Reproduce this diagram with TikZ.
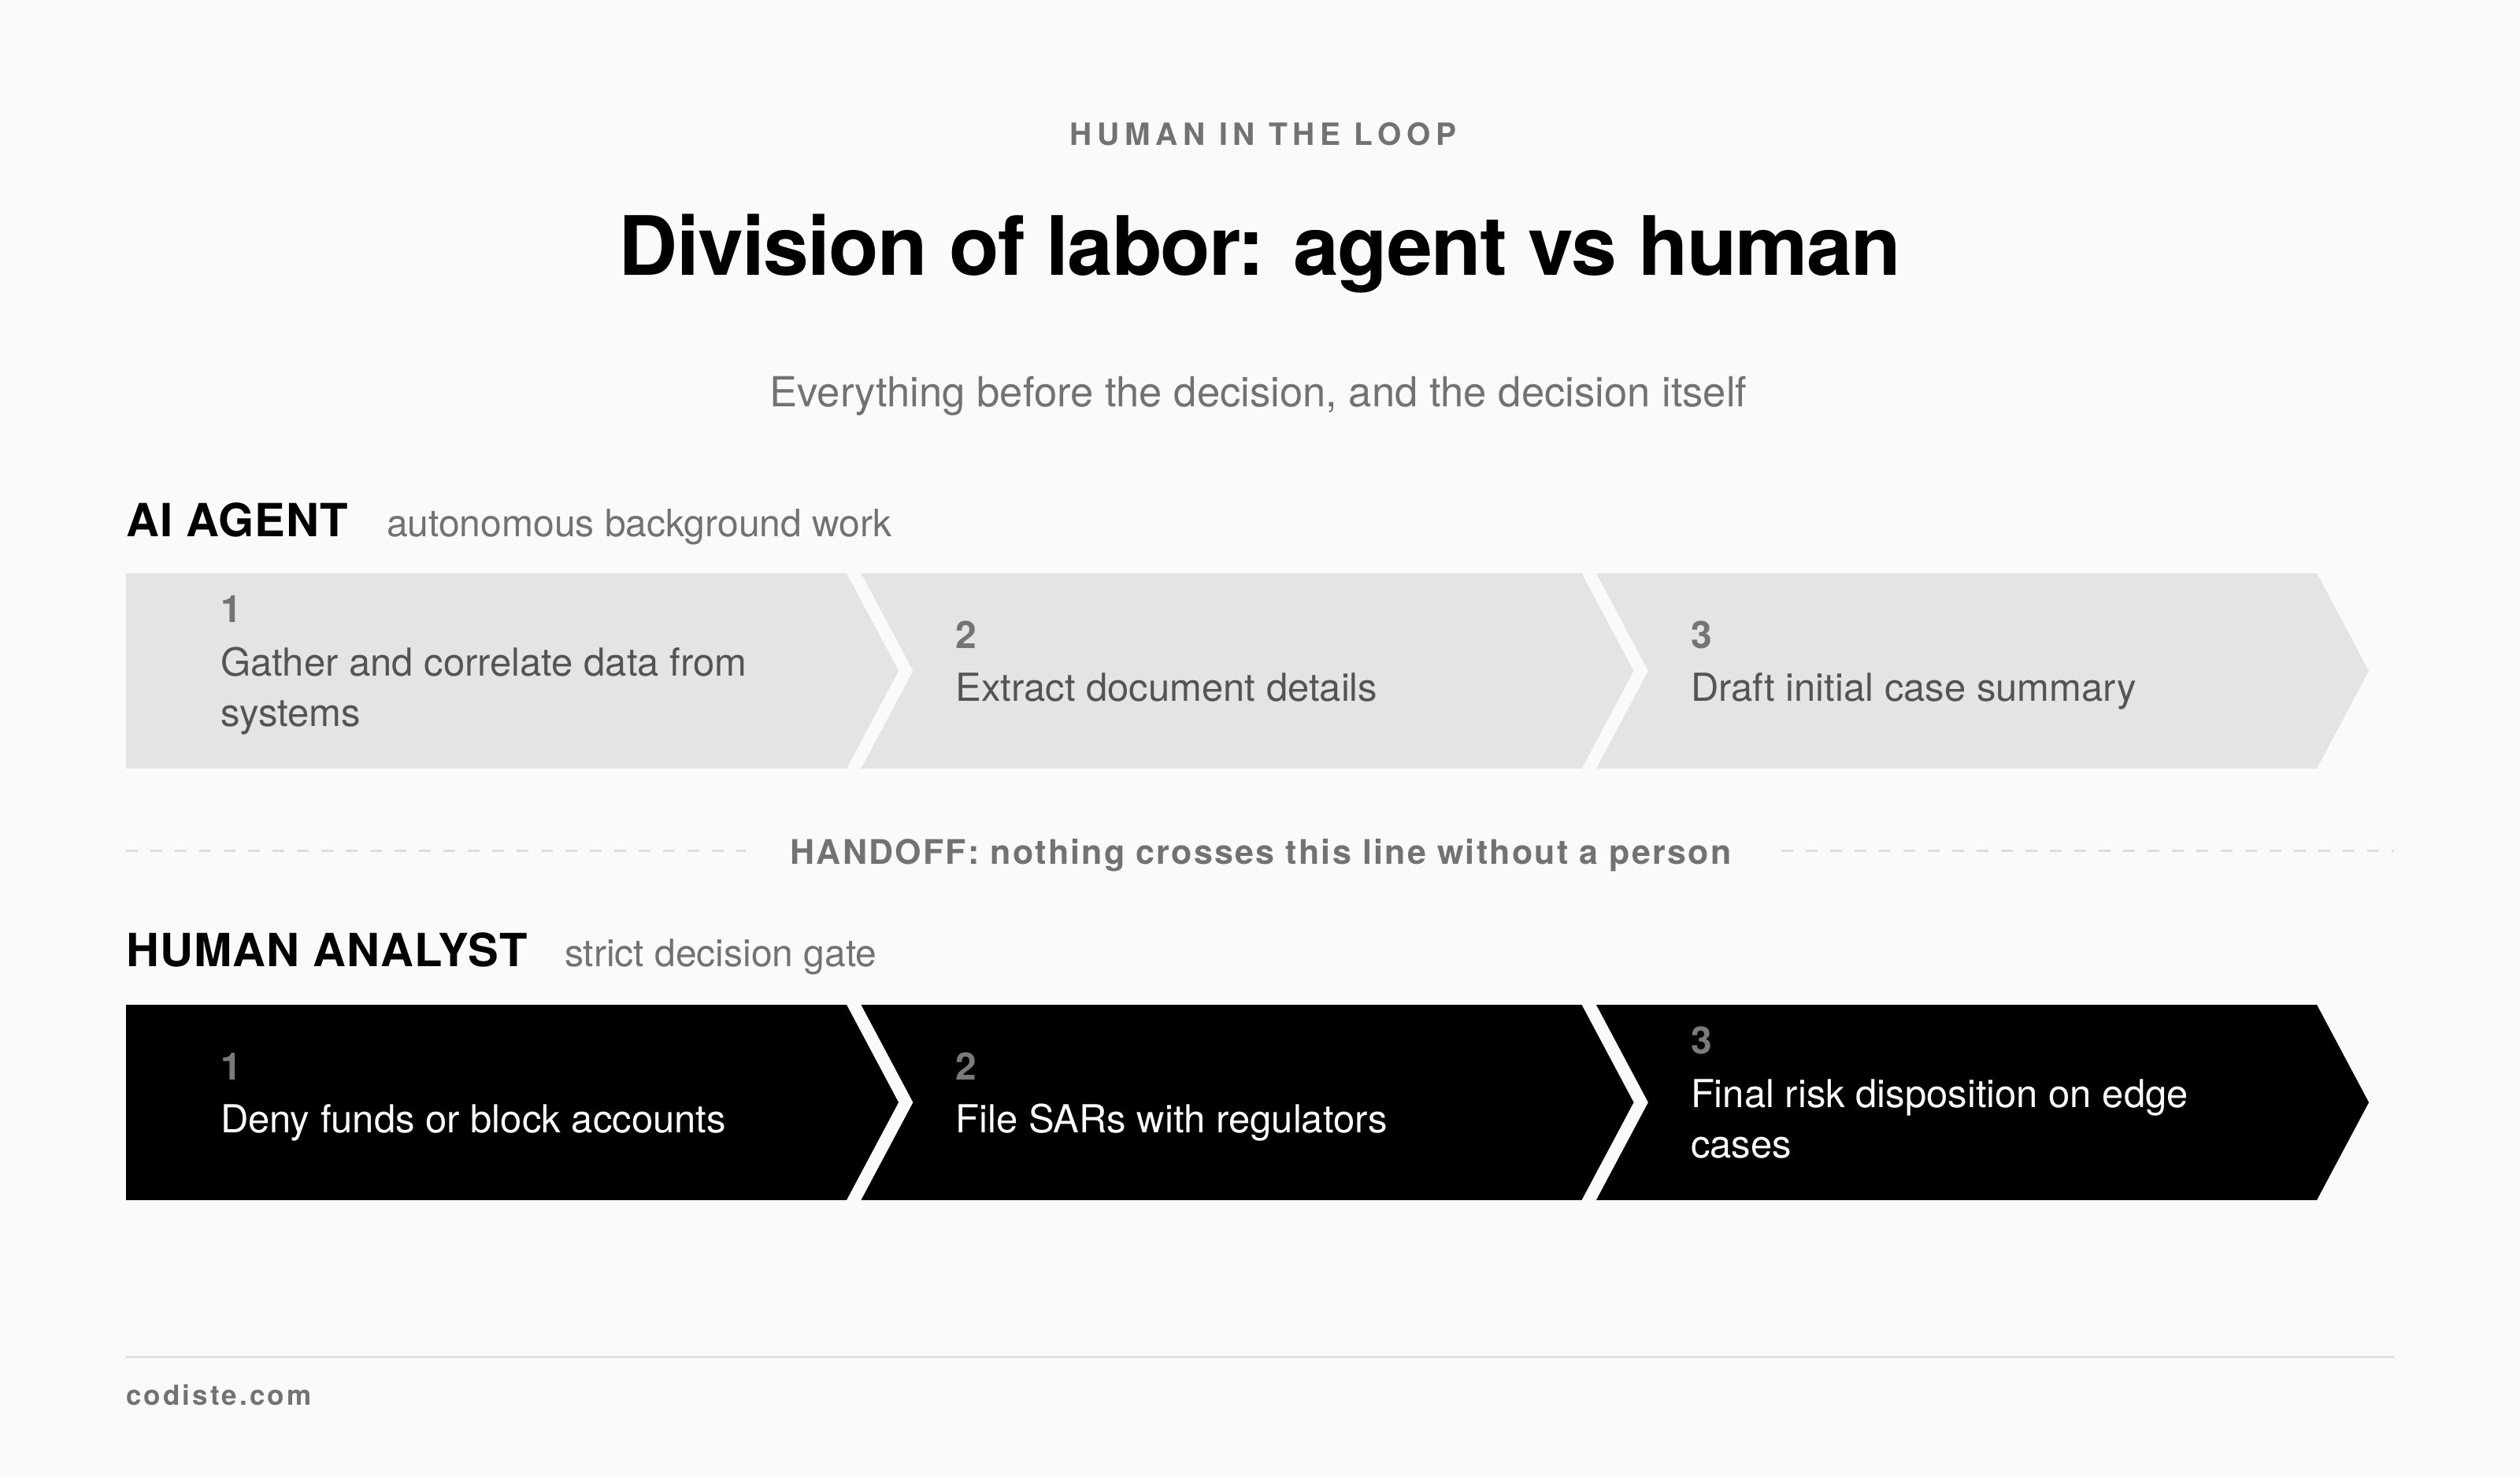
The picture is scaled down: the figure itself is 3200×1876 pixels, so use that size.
\documentclass[tikz,border=0pt]{standalone}
\usepackage{fontspec}
\setmainfont{TeX Gyre Heros}
\definecolor{bg}{HTML}{FAFAFA}
\definecolor{chevgray}{HTML}{E4E4E4}
\definecolor{chevdark}{HTML}{000000}
\definecolor{numgray}{HTML}{747474}
\definecolor{numdark}{HTML}{7A7A7A}
\definecolor{txtgray}{HTML}{545454}
\definecolor{labelgray}{HTML}{727272}
\definecolor{dashgray}{HTML}{DDDDDD}
\definecolor{rulegray}{HTML}{E2E2E2}
\tikzset{
  every node/.style={inner sep=0pt,outer sep=0pt},
  chevlight/.style={fill=chevgray},
  chevblack/.style={fill=chevdark},
  numlight/.style={anchor=base west,text=numgray,font=\fontsize{48}{58}\selectfont\bfseries},
  numblack/.style={anchor=base west,text=numdark,font=\fontsize{48}{58}\selectfont\bfseries},
  txtlight/.style={anchor=base west,text=txtgray,font=\fontsize{49}{64}\selectfont},
  txtblack/.style={anchor=base west,text=white,font=\fontsize{49}{64}\selectfont},
  lanehead/.style={anchor=base west,text=black,font=\fontsize{58}{68}\selectfont\bfseries\addfontfeatures{LetterSpace=2}},
  lanesub/.style={anchor=base west,text=labelgray,font=\fontsize{48}{58}\selectfont},
  dashline/.style={draw=dashgray,line width=3pt,dash pattern=on 15pt off 16pt},
  ruleline/.style={draw=rulegray,line width=3pt}
}
\begin{document}
\begin{tikzpicture}[x=1pt,y=-1pt]
\useasboundingbox (0,0) rectangle (3200,1876);
\fill[bg] (0,0) rectangle (3200,1876);

% header
\node[anchor=base,text=labelgray,font=\fontsize{39}{46}\selectfont\bfseries\addfontfeatures{LetterSpace=17}] (kicker) at (1604,184) {HUMAN IN THE LOOP};
\node[anchor=base,text=black,font=\fontsize{104}{120}\selectfont\bfseries\addfontfeatures{LetterSpace=-1.7}] (title) at (1600,349) {Division of labor: agent vs human};
\node[anchor=base,text=labelgray,font=\fontsize{52.6}{60}\selectfont] (subtitle) at (1598,516) {Everything before the decision, and the decision itself};

% AI agent lane
\node[lanehead] (aihead) at (160,681) {AI AGENT};
\node[lanesub] (aisub) at (491,681) {autonomous background work};

\path[chevlight] (160,728) -- (1075,728) -- (1141,852) -- (1075,976) -- (160,976) -- cycle;
\path[chevlight] (1093.5,728) -- (2008.5,728) -- (2074.5,852) -- (2008.5,976) -- (1093.5,976) -- (1159.5,852) -- cycle;
\path[chevlight] (2027,728) -- (2942,728) -- (3008,852) -- (2942,976) -- (2027,976) -- (2093,852) -- cycle;

\node[numlight] (a1n) at (280,790) {1};
\node[txtlight] (a1t) at (280,858) {Gather and correlate data from};
\node[txtlight] (a1u) at (280,922) {systems};
\node[numlight] (a2n) at (1213.5,823) {2};
\node[txtlight] (a2t) at (1213.5,890) {Extract document details};
\node[numlight] (a3n) at (2147,823) {3};
\node[txtlight] (a3t) at (2147,890) {Draft initial case summary};

% handoff
\coordinate (hl) at (160,1080);
\coordinate (hr) at (3040,1080);
\node[anchor=base,text=labelgray,font=\fontsize{43}{50}\selectfont\bfseries\addfontfeatures{LetterSpace=5.2}] (handoff) at (1601,1097) {HANDOFF: nothing crosses this line without a person};
\draw[dashline,shorten >=57pt] (hl) -- (hl -| handoff.west);
\draw[dashline,shorten <=63pt] (hr -| handoff.east) -- (hr);

% human analyst lane
\node[lanehead] (huhead) at (160,1227) {HUMAN ANALYST};
\node[lanesub] (husub) at (717,1227) {strict decision gate};

\path[chevblack] (160,1276) -- (1075,1276) -- (1141,1400) -- (1075,1524) -- (160,1524) -- cycle;
\path[chevblack] (1093.5,1276) -- (2008.5,1276) -- (2074.5,1400) -- (2008.5,1524) -- (1093.5,1524) -- (1159.5,1400) -- cycle;
\path[chevblack] (2027,1276) -- (2942,1276) -- (3008,1400) -- (2942,1524) -- (2027,1524) -- (2093,1400) -- cycle;

\node[numblack] (h1n) at (280,1371) {1};
\node[txtblack] (h1t) at (280,1438) {Deny funds or block accounts};
\node[numblack] (h2n) at (1213.5,1371) {2};
\node[txtblack] (h2t) at (1213.5,1438) {File SARs with regulators};
\node[numblack] (h3n) at (2147,1338) {3};
\node[txtblack] (h3t) at (2147,1406) {Final risk disposition on edge};
\node[txtblack] (h3u) at (2147,1470) {cases};

% footer
\coordinate (fl) at (160,1723);
\coordinate (fr) at (3040,1723);
\draw[ruleline] (fl) -- (fr);
\node[anchor=base west,text=labelgray,font=\fontsize{35}{42}\selectfont\bfseries\addfontfeatures{LetterSpace=9}] (site) at (160,1784) {codiste.com};
\end{tikzpicture}
\end{document}
